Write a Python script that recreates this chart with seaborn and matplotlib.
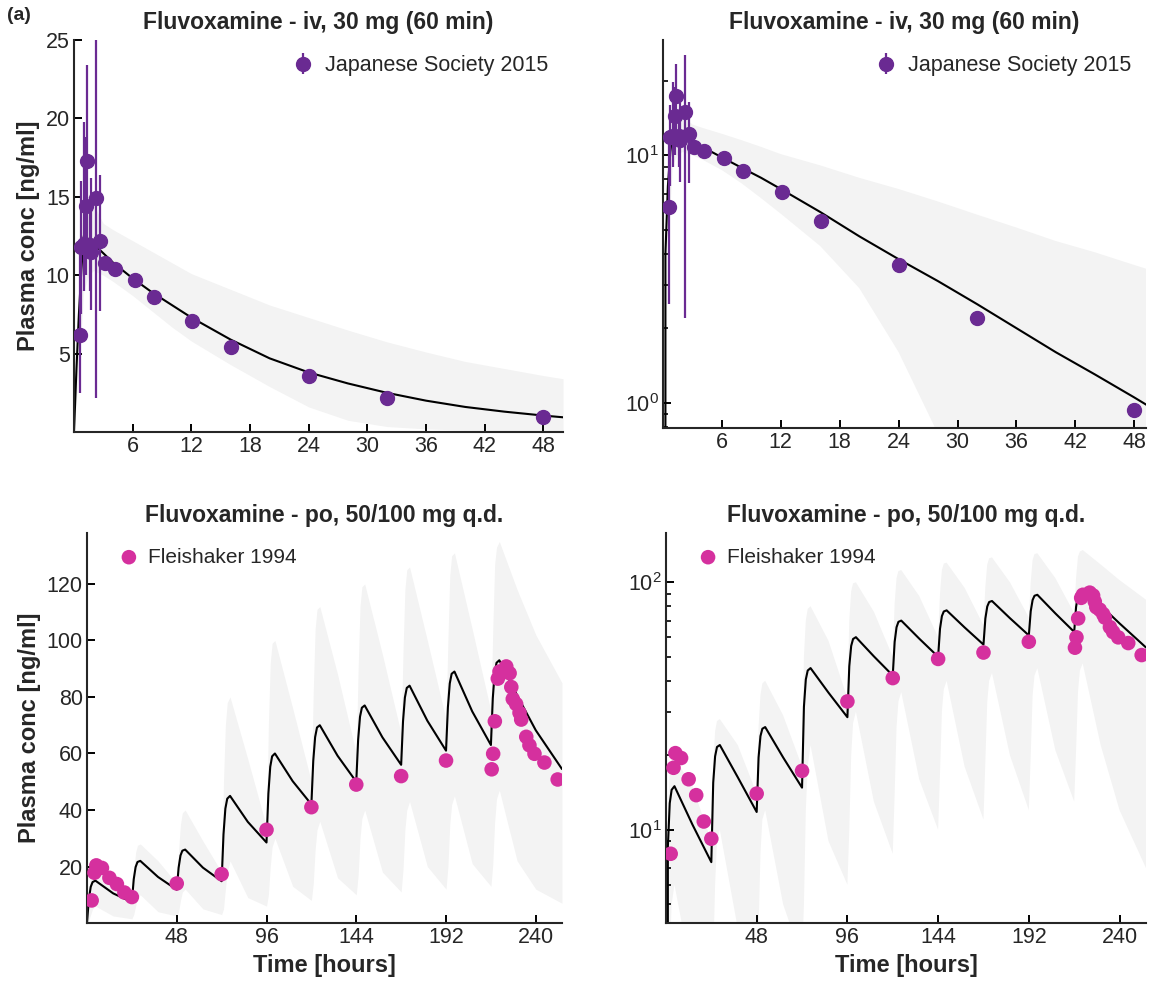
import matplotlib
matplotlib.use("Agg")
import matplotlib.pyplot as plt
import seaborn as sns

# ---- iv 30 mg (60 min), Japanese Society 2015 ----
iv_t = [0.6, 0.75, 1.05, 1.2, 1.3, 1.6, 1.75, 2.2, 2.7, 3.2, 4.2, 6.2, 8.2, 12.1, 16.1, 24.0, 32.0, 48.0]
iv_conc = [6.2, 11.8, 12.0, 14.4, 17.3, 11.9, 11.5, 14.9, 12.2, 10.8, 10.4, 9.7, 8.6, 7.1, 5.4, 3.6, 2.2, 0.93]
iv_lo = [2.5, 7.5, 9.0, 10.0, 11.3, 9.0, 7.8, 2.2, 7.7, 10.8, 10.4, 9.7, 8.6, 7.1, 5.4, 3.6, 2.2, 0.93]
iv_hi = [11.5, 16.0, 19.8, 18.8, 23.4, 15.0, 16.2, 25.5, 16.4, 10.8, 10.4, 9.7, 8.6, 7.1, 5.4, 3.6, 2.2, 0.93]

iv_sim_t = [0, 0.25, 0.5, 0.75, 1.0, 1.5, 2, 3, 4, 6, 8, 10, 12, 16, 20, 24, 28, 32, 36, 40, 44, 48, 50]
iv_sim_c = [0, 4.0, 7.5, 10.3, 12.5, 12.3, 12.0, 11.4, 10.8, 9.8, 8.9, 8.1, 7.3, 5.9, 4.7, 3.8, 3.1, 2.5, 2.0, 1.6, 1.3, 1.05, 0.94]
iv_band_t = [0, 0.5, 1, 1.5, 2, 3, 4, 6, 8, 10, 12, 16, 20, 24, 28, 32, 36, 40, 44, 48, 50]
iv_band_lo = [0, 4.0, 9.0, 10.0, 10.3, 10.0, 9.6, 8.7, 7.7, 6.7, 5.8, 4.3, 2.9, 1.6, 0.75, 0.35, 0.2, 0.12, 0.08, 0.05, 0.04]
iv_band_hi = [0, 9.0, 15.5, 15.0, 14.5, 13.3, 12.9, 12.2, 11.5, 10.8, 10.1, 9.1, 8.1, 7.3, 6.5, 5.75, 5.1, 4.5, 4.05, 3.6, 3.4]

# ---- po 50/100 mg q.d., Fleishaker 1994 ----
po_t = [2.5, 4.0, 5.0, 8.0, 12.0, 16.0, 20.0, 24.0, 48.0, 72.0, 96.0, 120.0, 144.0, 168.0, 192.0,
        216.4, 217.2, 218.1, 219.7, 220.6, 224.2, 226.0, 226.9, 227.7, 229.5, 231.3, 232.2,
        234.9, 236.6, 239.3, 244.6, 251.7]
po_conc = [8.0, 17.8, 20.4, 19.5, 16.0, 13.8, 10.8, 9.2, 14.0, 17.3, 33.0, 41.0, 49.0, 52.0, 57.5,
           54.4, 59.9, 71.4, 86.5, 89.0, 90.8, 88.4, 83.5, 79.3, 77.5, 74.4, 72.0,
           65.9, 62.9, 59.9, 56.8, 50.8]

po_sim_t = [0, 1, 2, 3, 4.5, 14,
            24, 25, 26, 27, 28.5, 38,
            48, 49, 50, 51, 52.5, 62,
            72, 73, 74, 75, 76.5, 86,
            96, 97, 98, 99, 100.5, 110,
            120, 121, 122, 123, 124.5, 134,
            144, 145, 146, 147, 148.5, 158,
            168, 169, 170, 171, 172.5, 182,
            192, 193, 194, 195, 196.5, 206,
            216, 217, 218, 219, 220.5, 230, 240, 254]
po_sim_c = [0, 8.5, 12.8, 14.5, 15.0, 10.5,
            7.4, 15.5, 19.8, 21.6, 22.0, 16.3,
            11.8, 19.6, 23.9, 25.6, 26.0, 19.6,
            14.8, 31.4, 40.5, 44.0, 45.0, 35.8,
            28.5, 45.8, 55.3, 59.0, 60.0, 50.2,
            42.0, 57.4, 65.8, 69.2, 70.0, 59.2,
            50.0, 64.9, 73.0, 76.2, 77.0, 65.7,
            56.0, 71.4, 79.8, 83.2, 84.0, 71.6,
            61.0, 76.4, 84.8, 88.2, 89.0, 74.9,
            63.0, 79.5, 88.5, 92.1, 93.0, 80.6, 68.2, 54.5]
po_band_lo = [0, 1.0, 3.0, 5.0, 6.0, 2.5,
              1.5, 3.0, 6.0, 9.0, 10.0, 4.0,
              2.5, 4.0, 8.0, 11.0, 12.0, 5.0,
              3.0, 5.0, 12.0, 18.0, 22.0, 9.0,
              6.0, 10.0, 20.0, 27.0, 30.0, 13.0,
              8.0, 14.0, 26.0, 33.0, 36.0, 16.0,
              10.0, 17.0, 30.0, 37.0, 40.0, 18.0,
              11.0, 19.0, 33.0, 40.0, 43.0, 20.0,
              12.0, 20.0, 35.0, 42.0, 45.0, 21.0,
              13.0, 21.0, 36.0, 44.0, 47.0, 22.0, 12.0, 7.0]
po_band_hi = [0, 12.0, 17.0, 19.0, 19.5, 15.0,
              9.0, 18.0, 25.0, 27.5, 28.0, 22.0,
              14.0, 26.0, 35.0, 39.0, 40.0, 29.0,
              18.0, 50.0, 70.0, 78.0, 80.0, 58.0,
              34.0, 70.0, 92.0, 99.0, 100.0, 76.0,
              50.0, 82.0, 104.0, 111.0, 112.0, 88.0,
              60.0, 90.0, 112.0, 119.0, 120.0, 95.0,
              67.0, 96.0, 118.0, 125.0, 126.0, 100.0,
              72.0, 100.0, 123.0, 130.0, 131.0, 104.0,
              75.0, 104.0, 127.0, 133.0, 135.0, 118.0, 102.0, 85.0]

purple = "#6a2a92"
pink = "#d5309e"
band = "#f3f3f3"

sns.set_style("ticks")
plt.rcParams["font.family"] = ["Liberation Sans", "DejaVu Sans"]
plt.rcParams["axes.linewidth"] = 1.5

fig = plt.figure(figsize=(11.49, 9.83), dpi=100)
ax_tl = fig.add_axes([0.0644, 0.5605, 0.4256, 0.3988])
ax_tr = fig.add_axes([0.5770, 0.5646, 0.4204, 0.3947])
ax_bl = fig.add_axes([0.0757, 0.0610, 0.4134, 0.3967])
ax_br = fig.add_axes([0.5796, 0.0610, 0.4178, 0.3967])


def style(ax):
    sns.despine(ax=ax)
    ax.tick_params(axis="both", which="major", direction="in", length=6, width=1.4,
                   labelsize=15.5, color="black", pad=3)
    ax.tick_params(axis="both", which="minor", direction="in", length=3.5, width=1.2, color="black")


def iv_panel(ax, log):
    ax.fill_between(iv_band_t, iv_band_lo, iv_band_hi, color=band, lw=0, zorder=0)
    sns.lineplot(x=iv_sim_t, y=iv_sim_c, ax=ax, color="black", lw=1.5, estimator=None, sort=False, zorder=2)
    yerr = [[c - lo for c, lo in zip(iv_conc, iv_lo)], [hi - c for c, hi in zip(iv_conc, iv_hi)]]
    ax.errorbar(iv_t, iv_conc, yerr=yerr, fmt="o", color=purple, ms=10, elinewidth=1.6,
                capsize=0, label="Japanese Society 2015", zorder=3)
    ax.set_title("Fluvoxamine - iv, 30 mg (60 min)", fontsize=16.5, fontweight="bold", pad=8)
    ax.set_xticks([6, 12, 18, 24, 30, 36, 42, 48])
    if log:
        ax.set_yscale("log")
        ax.set_xlim(0, 49.2)
        ax.set_ylim(0.79, 29.2)
    else:
        ax.set_xlim(0, 50)
        ax.set_ylim(0, 25)
        ax.set_yticks([5, 10, 15, 20, 25])
        ax.set_ylabel("Plasma conc [ng/ml]", fontsize=17, fontweight="bold")
    ax.set_xlabel("")
    ax.legend(loc="upper right", frameon=False, fontsize=15.5, handlelength=1.0,
              handletextpad=0.5, borderaxespad=0.3)
    style(ax)


def po_panel(ax, log):
    ax.fill_between(po_sim_t, po_band_lo, po_band_hi, color=band, lw=0, zorder=0)
    sns.lineplot(x=po_sim_t, y=po_sim_c, ax=ax, color="black", lw=1.5, estimator=None, sort=False, zorder=2)
    sns.scatterplot(x=po_t, y=po_conc, ax=ax, color=pink, s=110, edgecolor="none",
                    label="Fleishaker 1994", zorder=3)
    ax.set_title("Fluvoxamine - po, 50/100 mg q.d.", fontsize=16.5, fontweight="bold", pad=8)
    ax.set_xticks([48, 96, 144, 192, 240])
    ax.set_xlim(0, 254)
    if log:
        ax.set_yscale("log")
        ax.set_ylim(4.2, 158)
    else:
        ax.set_ylim(0, 138)
        ax.set_yticks([20, 40, 60, 80, 100, 120])
        ax.set_ylabel("Plasma conc [ng/ml]", fontsize=17, fontweight="bold")
    ax.set_xlabel("Time [hours]", fontsize=17, fontweight="bold")
    ax.legend(loc="upper left", frameon=False, fontsize=15, handlelength=0.8,
              handletextpad=0.5, borderaxespad=0.3, bbox_to_anchor=(0.04, 1.0))
    style(ax)


iv_panel(ax_tl, False)
iv_panel(ax_tr, True)
po_panel(ax_bl, False)
po_panel(ax_br, True)

fig.text(0.006, 0.993, "(a)", fontsize=14, fontweight="bold", va="top", ha="left")

fig.savefig("out.png", dpi=100)
